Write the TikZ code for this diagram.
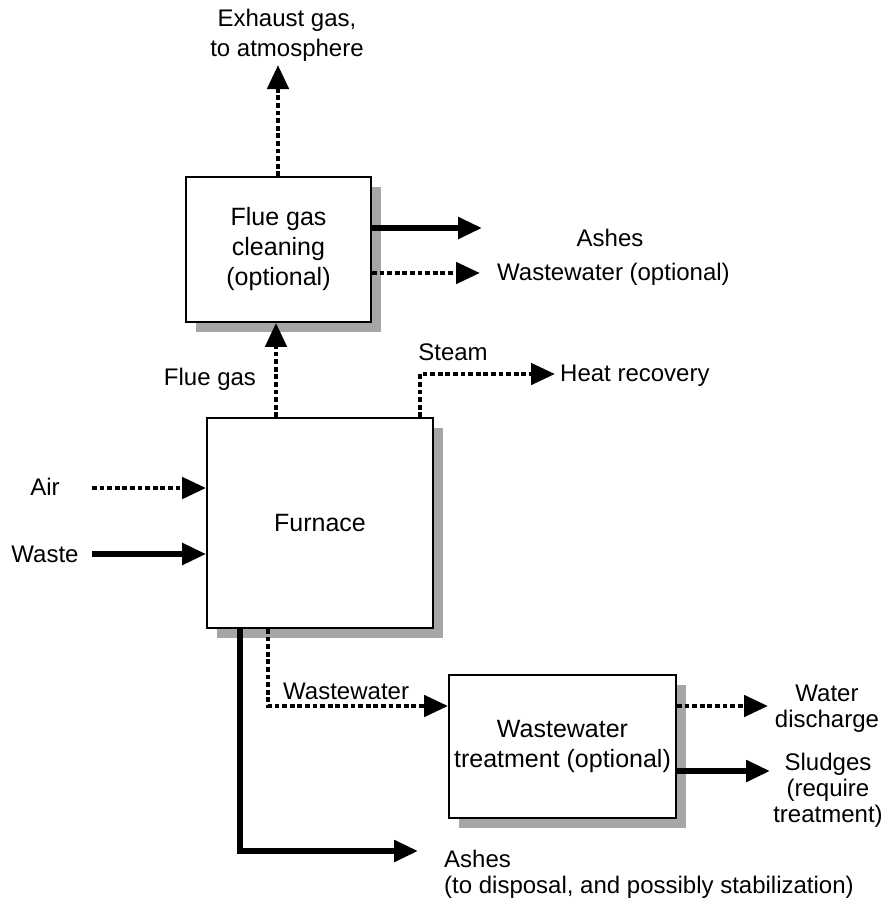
\documentclass[tikz,border=0pt]{standalone}
\usepackage{fontspec}
\setmainfont{Liberation Sans}
\usetikzlibrary{arrows.meta,shadows}
\begin{document}
\begin{tikzpicture}[x=1pt,y=-1pt,
  txt/.style={font=\fontsize{24}{26}\selectfont, inner sep=0pt, align=center},
  boxtxt/.style={font=\fontsize{25}{30}\selectfont, align=center},
  procbox/.style={draw=black, line width=1.8pt, fill=white, inner sep=0pt,
    drop shadow={shadow xshift=10pt, shadow yshift=-10pt, fill=black!35, opacity=1}},
  solidarrow/.style={line width=5.5pt, -{Triangle[length=24pt,width=21pt]}, line join=miter},
  dotarrow/.style={line width=4.8pt, dash pattern=on 4.8pt off 2.8pt, -{Triangle[length=24pt,width=21pt]}, line join=miter},
]
\useasboundingbox (0,0) rectangle (888,898);
\fill[white] (0,0) rectangle (888,898);

% boxes
\node[procbox, boxtxt, minimum width=185pt, minimum height=145pt] (fgc) at (278.5,249.5) {Flue gas\\cleaning\\(optional)};
\node[procbox, boxtxt, minimum width=226pt, minimum height=210pt] (furnace) at (320,523) {Furnace};
\node[procbox, boxtxt, minimum width=227pt, minimum height=143pt] (wwt) at (562.5,746.5) {Wastewater\\treatment (optional)};

% labels
\node[txt, font=\fontsize{24}{30}\selectfont] (exhaust) at (287,35) {Exhaust gas,\\to atmosphere};
\node[txt] (ashes1) at (610,238) {Ashes};
\node[txt, anchor=west] (wwoptl) at (497,274) {Wastewater (optional)};
\node[txt] (fluegasl) at (210,379) {Flue gas};
\node[txt] (steaml) at (453,352) {Steam};
\node[txt, anchor=west] (heat) at (560,376) {Heat recovery};
\node[txt] (airl) at (45,487) {Air};
\node[txt] (wastel) at (45,554) {Waste};
\node[txt, anchor=west] (wwl) at (283,691) {Wastewater};
\node[txt] (waterl) at (827,709) {Water\\discharge};
\node[txt] (sludgel) at (828,790) {Sludges\\(require\\treatment)};
\node[txt, align=left, anchor=north west] (ashes2) at (444,850) {Ashes\\(to disposal, and possibly stabilization)};

% coordinates
\coordinate (exh) at (278,65);
\coordinate (ashtop) at (482,228);
\coordinate (wwopt) at (480,273);
\coordinate (fgx) at (276,0);
\coordinate (steamcorner) at (420,374);
\coordinate (steamend) at (555,374);
\coordinate (airstart) at (92,488);
\coordinate (wastestart) at (92,554);
\coordinate (ashcorner) at (240,851);
\coordinate (ashend) at (418,851);
\coordinate (wwcorner) at (268,706);
\coordinate (wdend) at (768,706);
\coordinate (sludend) at (770,771);

% connectors
\draw[dotarrow] (fgc.north -| exh) -- (exh);
\draw[solidarrow] (fgc.east |- ashtop) -- (ashtop);
\draw[dotarrow] (fgc.east |- wwopt) -- (wwopt);
\draw[dotarrow] (furnace.north -| fgx) -- (fgc.south -| fgx);
\draw[dotarrow] (furnace.north -| steamcorner) -- (steamcorner) -- (steamend);
\draw[dotarrow] (airstart) -- (furnace.west |- airstart);
\draw[solidarrow] (wastestart) -- (furnace.west |- wastestart);
\draw[solidarrow] (furnace.south -| ashcorner) -- (ashcorner) -- (ashend);
\draw[dotarrow] (furnace.south -| wwcorner) -- (wwcorner) -- (wwt.west |- wwcorner);
\draw[dotarrow] (wwt.east |- wdend) -- (wdend);
\draw[solidarrow] (wwt.east |- sludend) -- (sludend);
\end{tikzpicture}
\end{document}
